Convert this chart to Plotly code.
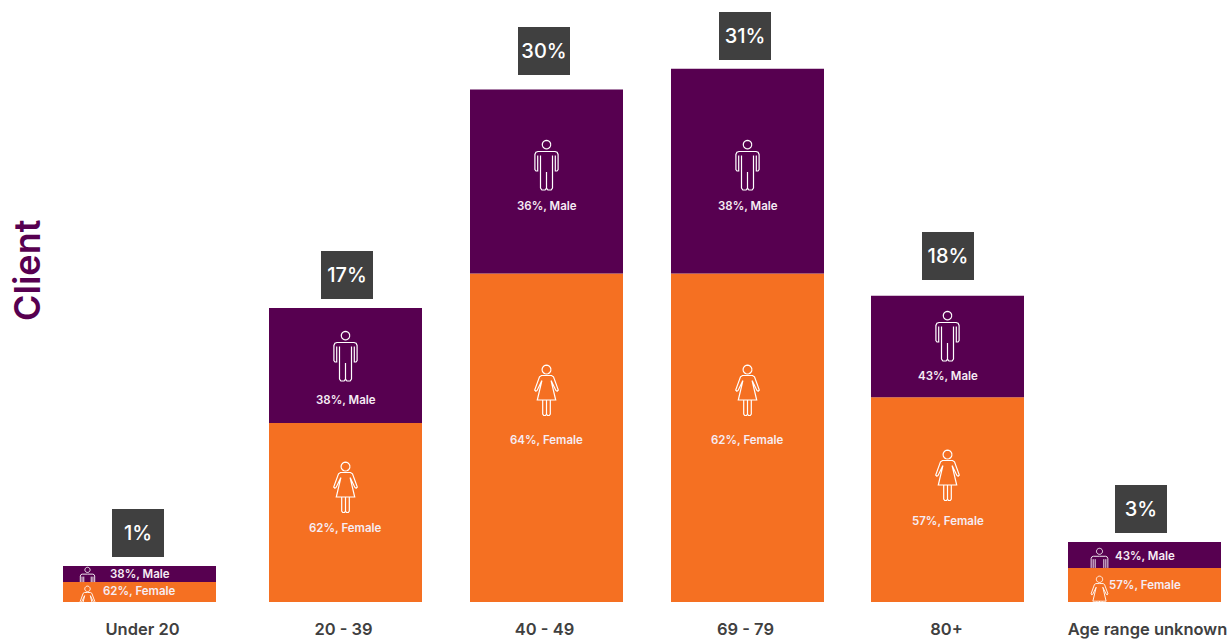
import math
import plotly.graph_objects as go

# ---- data ----
categories = ["Under 20", "20 - 39", "40 - 49", "69 - 79", "80+", "Age range unknown"]
totals = ["1%", "17%", "30%", "31%", "18%", "3%"]
# segment heights in axis units (small groups are drawn larger than their share)
female_values = [1.16, 10.4, 19.1, 19.1, 11.9, 1.98]
male_values = [0.93, 6.7, 10.7, 11.9, 5.9, 1.51]
female_share = ["62%", "62%", "64%", "62%", "57%", "57%"]
male_share = ["38%", "38%", "36%", "38%", "43%", "43%"]

# ---- layout and style ----
W, H = 1231, 640
PLOT_H = 602
Y_MAX = 35
SLOT = 201
FIRST = 139.5
PX = PLOT_H / Y_MAX
BAR_W = 153 / SLOT
bar_shift = [0, 5, 5, 5, 4, 0]
PURPLE, ORANGE, GREY = "#570050", "#F57022", "#404040"
FONT = "Inter, 'DejaVu Sans', sans-serif"

total_dx = [-1.5, 6.5, 2.5, 2.5, 4.5, -3.5]
total_gap = [9, 9, 14, 9, 16, 9]

male_lab_dx = [0, 5, 5, 5, 4, 0]
female_lab_dx = [0, 5, 5, 5, 4, 0]
male_lab_y = [574, 400, 206, 206, 376, 556]
female_lab_y = [591, 528, 440, 440, 521, 585]
male_icon = [(-52, 567, 0.62), (5, 331, 1), (5, 140, 1), (5, 140, 1), (4, 311, 1), (-45, 548, 0.72)]
female_icon = [(-52, 586, 0.62), (5, 462, 1), (5, 365, 1), (5, 365, 1), (4, 450, 1), (-45, 576, 0.72)]


def circle(cx, cy, r):
    return [(cx + r * math.cos(i * math.pi / 10), cy + r * math.sin(i * math.pi / 10)) for i in range(21)]


def mirrored(points):
    return points + [(-x, y) for x, y in reversed(points)]


MALE = [
    circle(0, 4.6, 4.2),
    mirrored([(8.8, 15.5), (8.8, 31), (10.5, 31), (11.6, 29.5), (11.6, 14.5), (10.6, 12.3), (8.5, 11.5), (0, 11.5)]),
    mirrored([(6, 15.5), (6, 48), (4.6, 50), (1.4, 50), (0, 48), (0, 32)]),
]
FEMALE = [
    circle(0, 4.6, 4.4),
    mirrored([(0, 10.5), (5, 10.5), (7, 11.8), (11.8, 25), (10.6, 26.2), (9.4, 25.4), (4.6, 15.6), (9.2, 35), (3.8, 35), (3.8, 49), (2.8, 50.5), (1, 50.5), (0, 49), (0, 35)]),
    [(-3.8, 35), (3.8, 35)],
]


def clipped_path(lines, dx, top_y, scale, limit_y):
    """Icon polylines in pixels above the baseline, cut at the bottom of their segment."""
    out = []
    for line in lines:
        pts = [(dx + x * scale, top_y + y * scale) for x, y in line]
        cur = []
        for i, p in enumerate(pts):
            if p[1] <= limit_y:
                if i and pts[i - 1][1] > limit_y:
                    a = pts[i - 1]
                    t = (limit_y - a[1]) / (p[1] - a[1])
                    cur = [(a[0] + t * (p[0] - a[0]), limit_y)]
                cur.append(p)
            elif cur:
                a = pts[i - 1]
                t = (limit_y - a[1]) / (p[1] - a[1])
                cur.append((a[0] + t * (p[0] - a[0]), limit_y))
                out.append(cur)
                cur = []
        if cur:
            out.append(cur)
    return " ".join(
        "M " + " L ".join(f"{x:.2f},{PLOT_H - y:.2f}" for x, y in c) for c in out
    )


offsets = [s / SLOT - BAR_W / 2 for s in bar_shift]
fig = go.Figure()
fig.add_bar(x=categories, y=female_values, name="Female", marker_color=ORANGE, marker_line_width=0,
            width=BAR_W, offset=offsets)
fig.add_bar(x=categories, y=male_values, name="Male", base=female_values, marker_color=PURPLE,
            marker_line_width=0, width=BAR_W, offset=offsets)

annotations = []
shapes = []
for i, cat in enumerate(categories):
    f, m = female_values[i], male_values[i]
    annotations.append(dict(
        x=i, y=f + m, xref="x", yref="y", text=totals[i], showarrow=False, yanchor="bottom",
        xshift=total_dx[i], yshift=total_gap[i], width=52, height=48, bgcolor=GREY, borderpad=0, borderwidth=0,
        font=dict(family=FONT, size=20, color="white", weight=500), align="center", valign="middle"))
    for val, share, sex, dx, ly in (
        (f, female_share[i], "Female", female_lab_dx[i], female_lab_y[i]),
        (m, male_share[i], "Male", male_lab_dx[i], male_lab_y[i]),
    ):
        annotations.append(dict(
            x=i, y=0, xref="x", yref="y", text=f"{share}, {sex}", showarrow=False, yanchor="middle",
            xanchor="center", xshift=dx, yshift=PLOT_H - ly,
            font=dict(family=FONT, size=11.5, color="#F6ECF4", weight=600)))
    fd, ft, fs = female_icon[i]
    md, mt, ms = male_icon[i]
    lw = 1.2 if fs == 1 else 0.9
    shapes.append(dict(type="path", xsizemode="pixel", ysizemode="pixel", xanchor=i, yanchor=0, xref="x", yref="y",
                       path=clipped_path(FEMALE, fd, ft, fs, PLOT_H),
                       line=dict(color="white", width=lw), layer="above"))
    shapes.append(dict(type="path", xsizemode="pixel", ysizemode="pixel", xanchor=i, yanchor=0, xref="x", yref="y",
                       path=clipped_path(MALE, md, mt, ms, PLOT_H - f * PX),
                       line=dict(color="white", width=lw), layer="above"))

annotations.append(dict(
    xref="paper", yref="paper", x=27 / W, y=1 - 270 / PLOT_H, text="Client", textangle=-90, showarrow=False,
    xanchor="center", yanchor="middle", font=dict(family=FONT, size=36, color=PURPLE, weight=600)))

fig.update_layout(
    width=W, height=H, margin=dict(l=0, r=0, t=0, b=H - PLOT_H, autoexpand=False), paper_bgcolor="white",
    plot_bgcolor="white", barmode="overlay", showlegend=False, annotations=annotations, shapes=shapes,
    xaxis=dict(type="category", categoryorder="array", categoryarray=categories, automargin=False,
               range=[-FIRST / SLOT, (W - FIRST) / SLOT], showgrid=False, zeroline=False, showline=False,
               ticks="", ticklabelshift=3, ticklabelstandoff=15,
               tickfont=dict(family=FONT, size=16.5, color=GREY, weight=600)),
    yaxis=dict(range=[0, Y_MAX], visible=False, automargin=False),
)
fig.write_html("out.html", config={"displayModeBar": False},
               post_script="document.body.style.margin='0';document.body.style.overflow='hidden';")
